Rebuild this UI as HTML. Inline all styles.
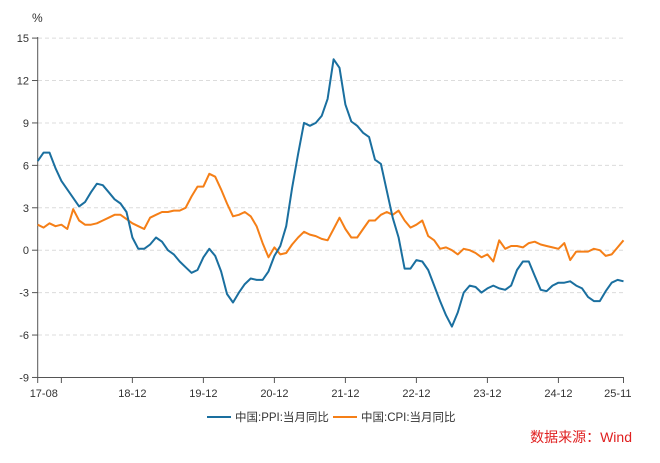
<!DOCTYPE html>
<html><head><meta charset="utf-8"><style>
body{margin:0;background:#fff;}
svg text{font-family:"Liberation Sans","Noto Sans CJK SC",sans-serif;fill:#333;}
</style></head><body>
<svg id="c" width="660" height="458" xmlns="http://www.w3.org/2000/svg">
<text x="32" y="22" font-size="12">%</text>
<g id="grid"></g>
<line x1="37.7" y1="37" x2="37.7" y2="377.5" stroke="#555" stroke-width="1"/>
<line x1="37.7" y1="377.5" x2="624" y2="377.5" stroke="#555" stroke-width="1"/>
<g id="ticks"></g>
<polyline id="cpi" fill="none" stroke="#f57f17" stroke-width="2" stroke-linejoin="round"/>
<polyline id="ppi" fill="none" stroke="#1a6f9f" stroke-width="2" stroke-linejoin="round"/>
<line x1="207" y1="417" x2="231" y2="417" stroke="#1a6f9f" stroke-width="2"/>
<text x="235" y="421" font-size="11.5">中国:PPI:当月同比</text>
<line x1="333" y1="417" x2="357" y2="417" stroke="#f57f17" stroke-width="2"/>
<text x="361" y="421" font-size="11.5">中国:CPI:当月同比</text>
<text x="632" y="442" font-size="14" text-anchor="end" style="fill:#e02020">数据来源：Wind</text>
</svg>
<script>
var ppi=[6.3,6.9,6.9,5.8,4.9,
4.3,3.7,3.1,3.4,4.1,4.7,4.6,4.1,3.6,3.3,2.7,0.9,
0.1,0.1,0.4,0.9,0.6,0.0,-0.3,-0.8,-1.2,-1.6,-1.4,-0.5,
0.1,-0.4,-1.5,-3.1,-3.7,-3.0,-2.4,-2.0,-2.1,-2.1,-1.5,-0.4,
0.3,1.7,4.4,6.8,9.0,8.8,9.0,9.5,10.7,13.5,12.9,10.3,
9.1,8.8,8.3,8.0,6.4,6.1,4.2,2.3,0.9,-1.3,-1.3,-0.7,
-0.8,-1.4,-2.5,-3.6,-4.6,-5.4,-4.4,-3.0,-2.5,-2.6,-3.0,-2.7,
-2.5,-2.7,-2.8,-2.5,-1.4,-0.8,-0.8,-1.8,-2.8,-2.9,-2.5,-2.3,
-2.3,-2.2,-2.5,-2.7,-3.3,-3.6,-3.6,-2.9,-2.3,-2.1,-2.2];
var cpi=[1.8,1.6,1.9,1.7,1.8,
1.5,2.9,2.1,1.8,1.8,1.9,2.1,2.3,2.5,2.5,2.2,1.9,
1.7,1.5,2.3,2.5,2.7,2.7,2.8,2.8,3.0,3.8,4.5,4.5,
5.4,5.2,4.3,3.3,2.4,2.5,2.7,2.4,1.7,0.5,-0.5,0.2,
-0.3,-0.2,0.4,0.9,1.3,1.1,1.0,0.8,0.7,1.5,2.3,1.5,
0.9,0.9,1.5,2.1,2.1,2.5,2.7,2.5,2.8,2.1,1.6,1.8,
2.1,1.0,0.7,0.1,0.2,0.0,-0.3,0.1,0.0,-0.2,-0.5,-0.3,
-0.8,0.7,0.1,0.3,0.3,0.2,0.5,0.6,0.4,0.3,0.2,0.1,
0.5,-0.7,-0.1,-0.1,-0.1,0.1,0.0,-0.4,-0.3,0.2,0.7];
var x0=37.7,dx=(623.5-37.7)/99,y0=250.2,k=14.14;
function pts(a){return a.map(function(v,i){return (x0+i*dx).toFixed(1)+","+(y0-v*k).toFixed(1)}).join(" ");}
document.getElementById('ppi').setAttribute('points',pts(ppi));
document.getElementById('cpi').setAttribute('points',pts(cpi));
var ns="http://www.w3.org/2000/svg",g=document.getElementById('grid'),t=document.getElementById('ticks');
function el(p,tag,at,txt){var e=document.createElementNS(ns,tag);for(var a in at)e.setAttribute(a,at[a]);if(txt)e.textContent=txt;p.appendChild(e);}
for(var v=15;v>=-9;v-=3){var y=y0-v*k;
 if(v>-9)el(g,'line',{x1:38,x2:624,y1:y,y2:y,stroke:'#dcdcdc','stroke-dasharray':'4,3'});
 el(t,'line',{x1:32,x2:37.7,y1:y,y2:y,stroke:'#555'});
 el(t,'text',{x:29,y:y+4,'font-size':11,'text-anchor':'end'},String(v));}
var ticks=[[0,'17-08','start'],[4,''],[16,'18-12'],[28,'19-12'],[40,'20-12'],[52,'21-12'],[64,'22-12'],[76,'23-12'],[88,'24-12'],[99,'25-11','end']];
ticks.forEach(function(d){var x=x0+d[0]*dx;
 el(t,'line',{x1:x,x2:x,y1:377.5,y2:383,stroke:'#555'});
 if(d[1]){var anc=d[2]||'middle';var xx=anc=='start'?x-8:(anc=='end'?x+8:x);
 el(t,'text',{x:xx,y:397,'font-size':11,'text-anchor':anc},d[1]);}});
</script>
</body></html>
